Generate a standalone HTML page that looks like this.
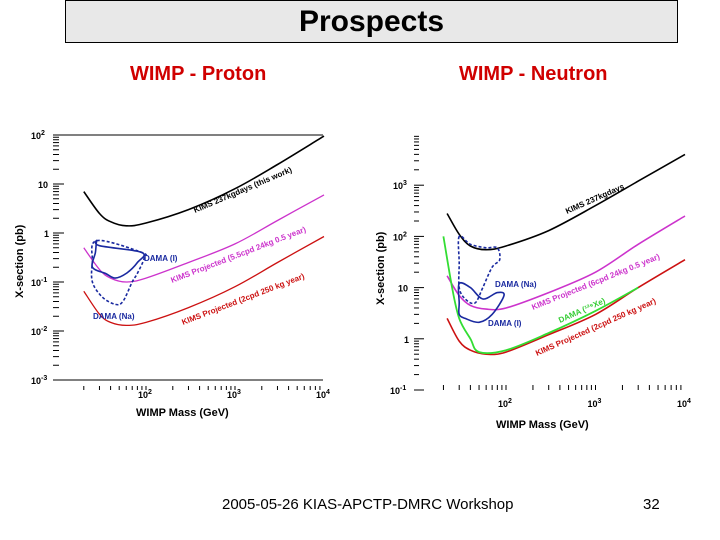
<!DOCTYPE html>
<html><head><meta charset="utf-8">
<style>
body{margin:0;background:#fff;width:720px;height:540px;overflow:hidden;font-family:"Liberation Sans",sans-serif;position:relative}
#title{position:absolute;left:65px;top:0;width:611px;height:41px;border:1px solid #000;background:#e8e8e8;text-align:center;font-weight:bold;font-size:30px;line-height:42px}
.sub{position:absolute;top:63px;color:#d00000;font-weight:bold;font-size:20px}
#footer{position:absolute;left:222px;top:496px;font-size:15px;font-family:"Liberation Sans",sans-serif}
#page{position:absolute;left:643px;top:496px;font-size:15px}
svg{position:absolute;left:0;top:0}
</style></head><body>
<div id="title">Prospects</div>
<div class="sub" style="left:130px">WIMP - Proton</div>
<div class="sub" style="left:459px">WIMP - Neutron</div>
<div id="footer">2005-05-26 KIAS-APCTP-DMRC Workshop</div>
<div id="page">32</div>
<svg id="chart" width="720" height="540"></svg>
<script>
// ---- Left (proton) data: [mass GeV, sigma pb]
const pMass=[20,30,40,60,100,300,1000,3000,10000];
const pBlack=[7,2.5,1.7,1.4,1.6,3,8,25,95];
const pMagenta=[0.5,0.18,0.12,0.1,0.12,0.25,0.6,1.8,6];
const pRed=[0.065,0.022,0.015,0.013,0.015,0.03,0.08,0.25,0.85];
const pDamaIM=[28,30,90,80,60,45,35,25,27,28];
const pDamaIS=[0.7,0.55,0.4,0.25,0.15,0.12,0.15,0.2,0.4,0.7];
const pDamaNaM=[28,90,95,80,70,55,45,32,25,25,28];
const pDamaNaS=[0.7,0.4,0.3,0.15,0.1,0.04,0.035,0.05,0.1,0.25,0.7];
// ---- Right (neutron) data
const nMass=[22,30,40,60,100,300,1000,3000,10000];
const nBlack=[280,110,65,55,65,130,400,1200,4000];
const nMagenta=[17,7,4.5,3.8,4,8,20,70,250];
const nRed=[2.5,0.9,0.6,0.5,0.55,1.2,3,10,35];
const nGreenM=[20,25,30,40,50,100,300,1000,3000];
const nGreenS=[100,10,2.5,1.0,0.55,0.6,1.3,3.5,10];
const nDamaNaM=[30,30,30,35,45,55,70,85,80,60,40,30];
const nDamaNaS=[100,30,10,6,5,10,25,35,60,60,70,100];
const nDamaIM=[30,30,30,35,50,70,95,80,55,40,30];
const nDamaIS=[12,5,3,2.5,2.1,3,7,8,6,10,12];

const svg=document.getElementById('chart');
const NS='http://www.w3.org/2000/svg';
function mk(tag,attrs,parent){const e=document.createElementNS(NS,tag);for(const k in attrs)e.setAttribute(k,attrs[k]);(parent||svg).appendChild(e);return e;}
function axes(x2,xpd,y0,ypd,ylog0){
  return {x:m=>x2+(Math.log10(m)-2)*xpd, y:s=>y0-(Math.log10(s)-ylog0)*ypd};
}
const L=axes(146,89,380,49,-3);
const R=axes(506,89.5,390,51.2,-1);
function line(ax,ms,ss,color,w,dash,closed,name){
  const P=ms.map((m,i)=>[ax.x(m),ax.y(ss[i])]);
  const n=P.length;
  let d='M'+P[0][0].toFixed(1)+','+P[0][1].toFixed(1);
  for(let i=0;i<n-1;i++){
    const p0=P[i>0?i-1:(closed?n-2:0)],p1=P[i],p2=P[i+1],p3=P[i+2<n?i+2:(closed?1:n-1)];
    const c1=[p1[0]+(p2[0]-p0[0])/6,p1[1]+(p2[1]-p0[1])/6];
    const c2=[p2[0]-(p3[0]-p1[0])/6,p2[1]-(p3[1]-p1[1])/6];
    d+=' C'+c1[0].toFixed(1)+','+c1[1].toFixed(1)+' '+c2[0].toFixed(1)+','+c2[1].toFixed(1)+' '+p2[0].toFixed(1)+','+p2[1].toFixed(1);
  }
  const p=mk('path',{d:d,fill:'none',stroke:color,'stroke-width':w,'stroke-linejoin':'round'});
  if(dash)p.setAttribute('stroke-dasharray',dash);
  
  
}
function txt(x,y,s,opt){const t=mk('text',Object.assign({x:x,y:y,'font-family':'Liberation Sans, sans-serif','font-weight':'bold','font-size':9},opt||{}));t.textContent=s;return t;}

// Left axes
mk('line',{x1:53,y1:135,x2:323,y2:135,stroke:'#000','stroke-width':1});
mk('line',{x1:53,y1:380,x2:323,y2:380,stroke:'#000','stroke-width':1});
for(let dec=-3;dec<2;dec++)for(let k=1;k<10;k++){const y=L.y(k*Math.pow(10,dec));mk('line',{x1:53,x2:k==1?64:59,y1:y,y2:y,stroke:'#000','stroke-width':1});}
[[2,'10','2'],[1,'10',''],[0,'1',''],[-1,'10','-1'],[-2,'10','-2'],[-3,'10','-3']].forEach(([e,b,s])=>{
  const t=txt(s?31:(b=='1'?44:38),L.y(Math.pow(10,e))+4,b);
  if(s){const ts=mk('tspan',{dy:-4,'font-size':7},t);ts.textContent=s;}
});
for(let dec=1;dec<4;dec++)for(let k=(dec==1?2:1);k<10;k++){const x=L.x(k*Math.pow(10,dec));mk('line',{x1:x,x2:x,y1:386,y2:390,stroke:'#000'});}
[[2,'2'],[3,'3'],[4,'4']].forEach(([e,s])=>{const t=txt(L.x(Math.pow(10,e))-8,398,'10');const ts=mk('tspan',{dy:-4,'font-size':7},t);ts.textContent=s;});
txt(136,416,'WIMP Mass (GeV)',{'font-size':11});
txt(0,0,'X-section (pb)',{'font-size':11,transform:'translate(23,298) rotate(-90)'});
line(L,pMass,pBlack,'#000',1.6,null,false,'kims-237-line');
line(L,pMass,pMagenta,'#cc33cc',1.3,null,false,'kims-projected-5cpd-line');
line(L,pMass,pRed,'#cc1111',1.3,null,false,'kims-projected-2cpd-line');
line(L,pDamaNaM,pDamaNaS,'#1a2aa0',1.6,'3,2',true,'dama-na-region');
line(L,pDamaIM,pDamaIS,'#1a2aa0',1.6,null,true,'dama-i-region');
txt(0,0,'KIMS 237kgdays (this work)',{'font-size':8,transform:'translate(195,213) rotate(-23)'});
txt(0,0,'KIMS Projected (5.5cpd 24kg 0.5 year)',{'font-size':8,fill:'#cc33cc',transform:'translate(172,283) rotate(-21)'});
txt(0,0,'KIMS Projected (2cpd 250 kg year)',{'font-size':8,fill:'#cc1111',transform:'translate(183,325) rotate(-21)'});
txt(144,261,'DAMA (I)',{'font-size':8,fill:'#1a2aa0'});
txt(93,319,'DAMA (Na)',{'font-size':8,fill:'#1a2aa0'});

// Right axes
for(let dec=-1;dec<4;dec++)for(let k=1;k<10;k++){const y=R.y(k*Math.pow(10,dec));mk('line',{x1:414,x2:k==1?424:419,y1:y,y2:y,stroke:'#000','stroke-width':1});}
[[3,'10','3'],[2,'10','2'],[1,'10',''],[0,'1',''],[-1,'10','-1']].forEach(([e,b,s])=>{
  const t=txt(s?(e==-1?390:393):(b=='1'?404:398),R.y(Math.pow(10,e))+4,b);
  if(s){const ts=mk('tspan',{dy:-4,'font-size':7},t);ts.textContent=s;}
});
for(let dec=1;dec<4;dec++)for(let k=(dec==1?2:1);k<10;k++){const x=R.x(k*Math.pow(10,dec));mk('line',{x1:x,x2:x,y1:385,y2:390,stroke:'#000'});}
[[2,'2'],[3,'3'],[4,'4']].forEach(([e,s])=>{const t=txt(R.x(Math.pow(10,e))-8,407,'10');const ts=mk('tspan',{dy:-4,'font-size':7},t);ts.textContent=s;});
txt(496,428,'WIMP Mass (GeV)',{'font-size':11});
txt(0,0,'X-section (pb)',{'font-size':11,transform:'translate(384,305) rotate(-90)'});
line(R,nMass,nBlack,'#000',1.6,null,false,'kims-237-line-neutron');
line(R,nMass,nMagenta,'#cc33cc',1.6,null,false,'kims-projected-6cpd-line');
line(R,nMass,nRed,'#cc1111',1.6,null,false,'kims-projected-2cpd-line-neutron');
line(R,nGreenM,nGreenS,'#33dd33',1.8,null,false,'dama-xe-line');
line(R,nDamaNaM,nDamaNaS,'#1a2aa0',1.6,'3,2',true,'dama-na-region-neutron');
line(R,nDamaIM,nDamaIS,'#1a2aa0',1.6,null,true,'dama-i-region-neutron');
txt(0,0,'KIMS 237kgdays',{'font-size':8,transform:'translate(567,214) rotate(-24)'});
txt(0,0,'KIMS Projected (6cpd 24kg 0.5 year)',{'font-size':8,fill:'#cc33cc',transform:'translate(533,310) rotate(-22)'});
txt(0,0,'DAMA (¹²⁹Xe)',{'font-size':8,fill:'#33cc33',transform:'translate(560,323) rotate(-24)'});
txt(0,0,'KIMS Projected (2cpd 250 kg year)',{'font-size':8,fill:'#cc1111',transform:'translate(537,356) rotate(-24)'});
txt(495,287,'DAMA (Na)',{'font-size':8,fill:'#1a2aa0'});
txt(488,326,'DAMA (I)',{'font-size':8,fill:'#1a2aa0'});
</script>
</body></html>
